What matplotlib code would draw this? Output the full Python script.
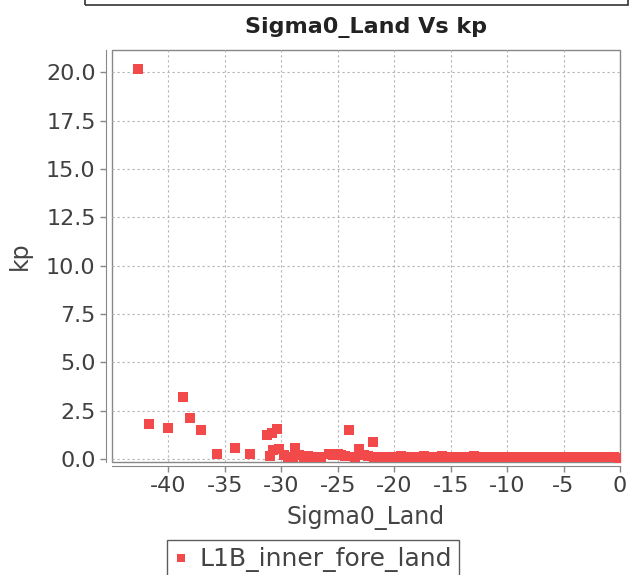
import matplotlib.pyplot as plt
import matplotlib as mpl
from matplotlib.patches import Rectangle

mpl.rc('font', family='DejaVu Sans')
mpl.rc('text', color='#444444')
mpl.rc('axes', labelcolor='#444444')

# Sigma0_Land values and matching kp values
sigma0_land = [-42.7, -41.7, -40.0, -38.7, -38.05, -37.1, -35.7, -34.1, -32.8,
               -31.3, -30.8, -30.4, -31.0, -30.7, -30.2, -29.8, -29.4, -29.0,
               -28.8, -28.4, -28.0, -27.6, -27.2, -26.8, -26.5, -25.8, -25.4,
               -25.0, -24.7, -24.4, -24.0, -23.1, -23.5, -22.7, -22.3, -21.9,
               -21.8, -21.4, -21.0, -20.6, -20.2, -19.8, -19.4, -19.0, -18.6,
               -18.2, -17.8, -17.4, -17.0, -16.6, -16.2, -15.8, -15.4, -15.0,
               -14.6, -14.2, -13.8, -13.4, -12.9, -12.5, -12.1, -11.7, -11.3,
               -10.9, -10.5, -10.1, -9.7, -9.3, -8.9, -8.5, -8.1, -7.7, -7.3,
               -6.9, -6.5, -6.1, -5.7, -5.3, -4.9, -4.5, -4.1, -3.7, -3.3,
               -2.9, -2.5, -2.1, -1.7, -1.3, -0.9, -0.5, -0.1]
kp = [20.15, 1.8, 1.6, 3.2, 2.1, 1.5, 0.28, 0.55, 0.24,
      1.25, 1.35, 1.55, 0.15, 0.45, 0.5, 0.2, 0.12, 0.1,
      0.55, 0.2, 0.12, 0.15, 0.1, 0.12, 0.1, 0.25, 0.2,
      0.25, 0.2, 0.15, 1.5, 0.5, 0.1, 0.2, 0.15, 0.9,
      0.1, 0.1, 0.1, 0.1, 0.1, 0.12, 0.15, 0.1, 0.1,
      0.1, 0.1, 0.15, 0.1, 0.1, 0.1, 0.15, 0.1, 0.1,
      0.1, 0.1, 0.1, 0.1, 0.18, 0.1, 0.1, 0.1, 0.1,
      0.1, 0.1, 0.1, 0.1, 0.1, 0.1, 0.1, 0.1, 0.1, 0.1,
      0.1, 0.1, 0.1, 0.1, 0.1, 0.1, 0.1, 0.1, 0.1, 0.1,
      0.1, 0.1, 0.1, 0.1, 0.1, 0.1, 0.1, 0.08]

x_ticks = [-40, -35, -30, -25, -20, -15, -10, -5, 0]
y_ticks = [0, 2.5, 5, 7.5, 10, 12.5, 15, 17.5, 20]

fig = plt.figure(figsize=(6.32, 5.75), dpi=100)
ax = fig.add_axes([112 / 632, 1 - 462 / 575, 508 / 632, 412 / 575])

ax.plot(sigma0_land, kp, 's', color='#f24a4a', markersize=7.3,
        markeredgewidth=0, label='L1B_inner_fore_land')

ax.set_xlim(-45, 0)
ax.set_ylim(-0.15, 21.15)
ax.set_xticks(x_ticks)
ax.set_yticks(y_ticks)
ax.set_xticklabels([str(t) for t in x_ticks])
ax.set_yticklabels([f'{t:.1f}' for t in y_ticks])
ax.tick_params(labelsize=16, colors='#888888', labelcolor='#404040',
               length=4, width=1)
ax.grid(True, color='#b4b4b4', linestyle=(0, (2, 2.5)), linewidth=0.8)

# offset axis lines plus a grey plot frame
for side in ['top', 'right']:
    ax.spines[side].set_visible(False)
ax.spines['left'].set_position(('outward', 4.3))
ax.spines['bottom'].set_position(('outward', 2.9))
for side in ['left', 'bottom']:
    ax.spines[side].set_color('#888888')
ax.add_patch(Rectangle((0, 0), 1, 1, transform=ax.transAxes, fill=False,
                       edgecolor='#888888', linewidth=1, clip_on=False))

ax.set_xlabel('Sigma0_Land', fontsize=17, labelpad=6)
ax.set_ylabel('kp', fontsize=17, labelpad=10)
ax.set_title('Sigma0_Land Vs kp', fontsize=16, fontweight='bold',
             color='#222222', pad=12)

fig.legend(loc='upper center', bbox_to_anchor=(313 / 632, 1 - 540 / 575),
           fontsize=18, frameon=True, fancybox=False, edgecolor='#333333',
           handlelength=0.5, handletextpad=0.5, borderpad=0.3,
           borderaxespad=0, markerscale=0.8)

# edge of the box above the chart
fig.patches.append(Rectangle((85 / 632, 1 - 5 / 575), 543 / 632, 0.1,
                             transform=fig.transFigure, fill=False,
                             edgecolor='#333333', linewidth=1.2))

fig.savefig('out.png', dpi=100)
